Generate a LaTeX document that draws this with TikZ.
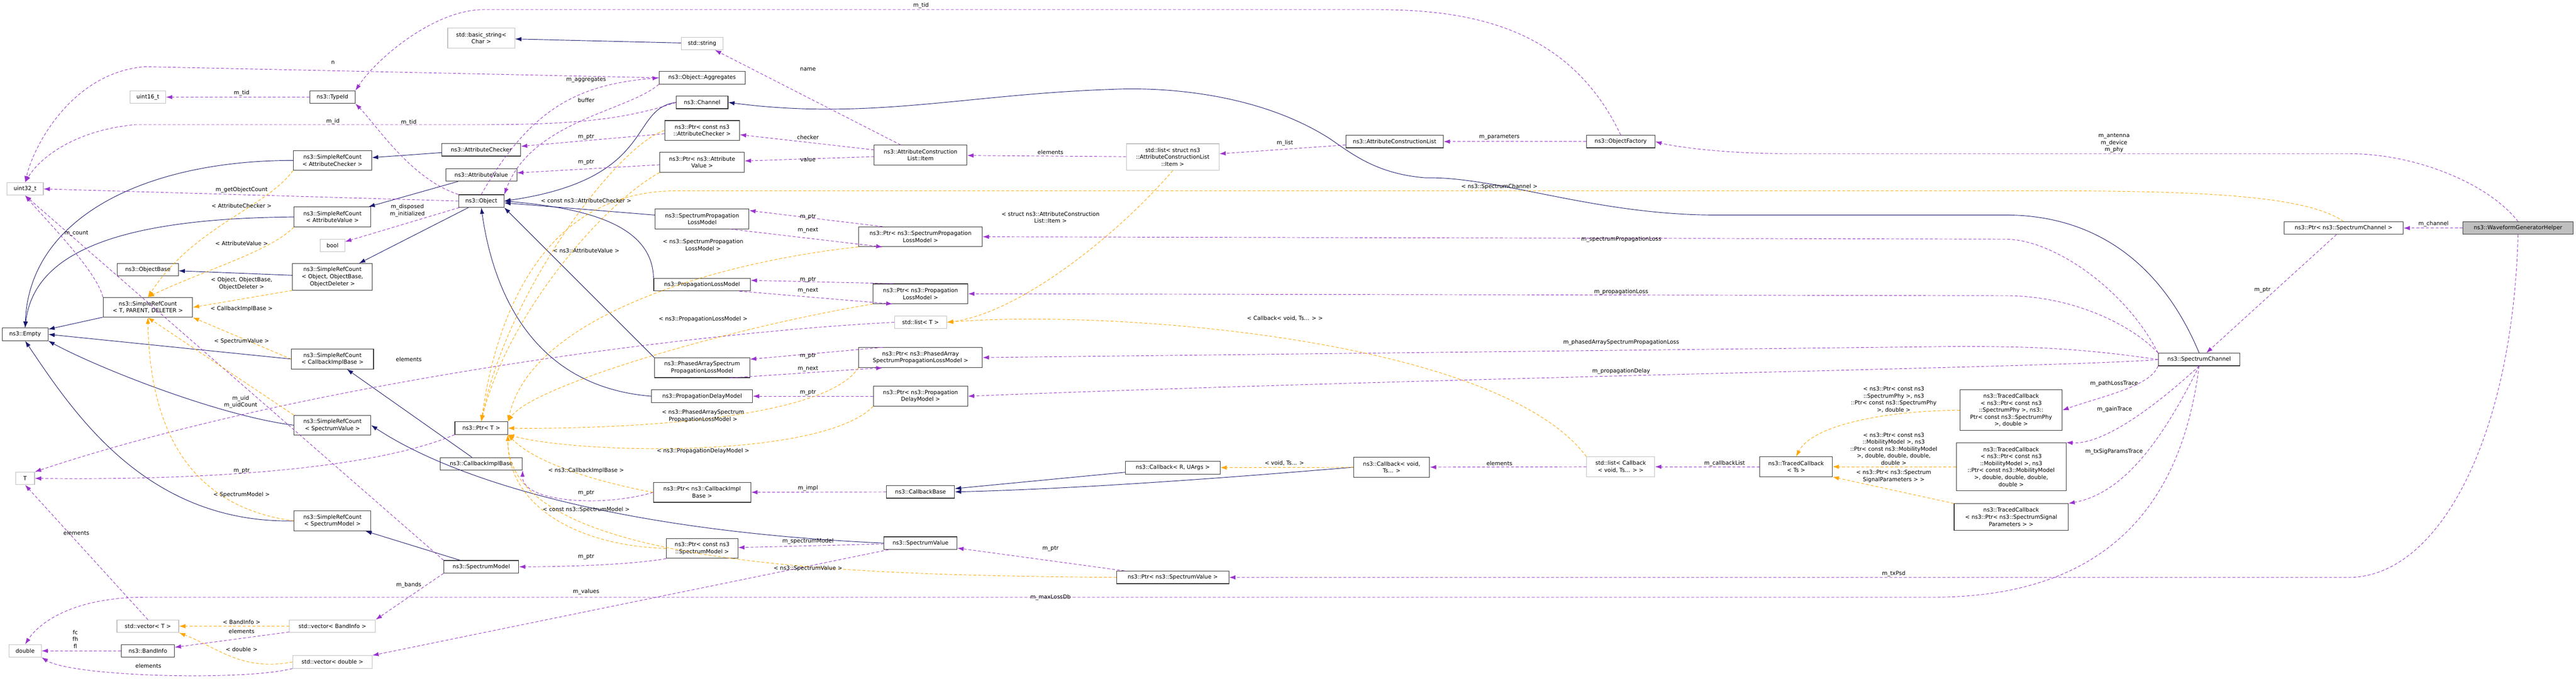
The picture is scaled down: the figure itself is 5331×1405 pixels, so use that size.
\documentclass[tikz,border=0pt]{standalone}
\usepackage{fontspec}
\setmainfont{DejaVu Sans}
\usetikzlibrary{arrows.meta}
\definecolor{inhcol}{HTML}{191970}
\definecolor{usecol}{HTML}{9A32CD}
\definecolor{tplcol}{HTML}{FFA500}
\definecolor{extcol}{HTML}{BFBFBF}

\begin{document}
\begin{tikzpicture}[x = 1pt, y = 1pt, > = {Latex[length=13pt, width=9pt]},
	every node/.style = {font = \fontsize{11.5}{14.5}\selectfont, align = center, inner sep = 0pt},
	cls/.style = {draw = black!80, fill = white, line width = 1.2pt, minimum height = 26pt},
	ext/.style = {draw = extcol, fill = white, line width = 1.2pt, minimum height = 26pt},
	main/.style = {draw = black!80, fill = black!25, line width = 1.2pt, minimum height = 26pt},
	inh/.style = {->, draw = inhcol, line width = 1pt},
	use/.style = {->, draw = usecol, line width = 1pt, dash pattern = on 6pt off 4pt},
	tpl/.style = {->, draw = tplcol, line width = 1pt, dash pattern = on 6pt off 4pt}]

\useasboundingbox (0, 0) rectangle (5331, -1405);

% Column 1 and 2: base classes

\node [ext, minimum width = 74] (u16) at (306, -201) {uint16\_t};
\node [cls, minimum width = 94] (tid) at (688, -201) {ns3::TypeId};
\node [ext, minimum width = 75] (u32) at (52, -391) {uint32\_t};
\node [cls, minimum width = 162, minimum height = 41] (srcac) at (688, -332) {ns3::SimpleRefCount\\< AttributeChecker >};
\node [cls, minimum width = 159, minimum height = 41] (srcav) at (688, -449) {ns3::SimpleRefCount\\< AttributeValue >};
\node [ext, minimum width = 51] (bool) at (688, -508) {bool};
\node [cls, minimum width = 126] (objbase) at (306, -558) {ns3::ObjectBase};
\node [cls, minimum width = 165, minimum height = 55] (srcobj) at (688, -573) {ns3::SimpleRefCount\\< Object, ObjectBase,\\ObjectDeleter >};
\node [cls, minimum width = 185, minimum height = 41] (srctpd) at (306, -636) {ns3::SimpleRefCount\\< T, PARENT, DELETER >};
\node [cls, minimum width = 95] (empty) at (52, -692) {ns3::Empty};
\node [cls, minimum width = 170, minimum height = 41] (srccib) at (688, -743) {ns3::SimpleRefCount\\< CallbackImplBase >};
\node [cls, minimum width = 159, minimum height = 41] (srcsv) at (688, -880) {ns3::SimpleRefCount\\< SpectrumValue >};
\node [ext, minimum width = 39] (tparam) at (52, -990) {T};
\node [cls, minimum width = 159, minimum height = 41] (srcsm) at (688, -1078) {ns3::SimpleRefCount\\< SpectrumModel >};
\node [ext, minimum width = 128] (vect) at (306, -1296) {std::vector< T >};
\node [ext, minimum width = 178] (vecbi) at (688, -1296) {std::vector< BandInfo >};
\node [ext, minimum width = 67] (dbl) at (52, -1347) {double};
\node [cls, minimum width = 110] (bandinfo) at (306, -1347) {ns3::BandInfo};
\node [ext, minimum width = 164] (vecdbl) at (688, -1370) {std::vector< double >};

% Column 3 and 4

\node [ext, minimum width = 139, minimum height = 41] (bstr) at (996, -79) {std::basic\_string<\\Char >};
\node [ext, minimum width = 86] (str) at (1453, -90) {std::string};
\node [cls, minimum width = 178] (aggr) at (1453, -161) {ns3::Object::Aggregates};
\node [cls, minimum width = 107] (chan) at (1453, -212) {ns3::Channel};
\node [cls, minimum width = 155, minimum height = 41] (ptrac) at (1453, -270) {ns3::Ptr< const ns3\\::AttributeChecker >};
\node [cls, minimum width = 163] (attrchk) at (996, -310) {ns3::AttributeChecker};
\node [cls, minimum width = 175, minimum height = 41] (ptrav) at (1453, -336) {ns3::Ptr< ns3::Attribute\\Value >};
\node [cls, minimum width = 147] (attrval) at (996, -362) {ns3::AttributeValue};
\node [cls, minimum width = 94] (obj) at (996, -416) {ns3::Object};
\node [cls, minimum width = 194, minimum height = 41] (splm) at (1453, -453) {ns3::SpectrumPropagation\\LossModel};
\node [cls, minimum width = 200] (plm) at (1453, -589) {ns3::PropagationLossModel};
\node [cls, minimum width = 197, minimum height = 41] (pasplm) at (1453, -761) {ns3::PhasedArraySpectrum\\PropagationLossModel};
\node [cls, minimum width = 209] (pdm) at (1453, -820) {ns3::PropagationDelayModel};
\node [cls, minimum width = 109] (ptrt) at (996, -886) {ns3::Ptr< T >};
\node [cls, minimum width = 170] (cib) at (996, -960) {ns3::CallbackImplBase};
\node [cls, minimum width = 202, minimum height = 41] (ptrcib) at (1453, -1019) {ns3::Ptr< ns3::CallbackImpl\\Base >};
\node [cls, minimum width = 148, minimum height = 41] (ptrsm) at (1453, -1135) {ns3::Ptr< const ns3\\::SpectrumModel >};
\node [cls, minimum width = 155] (specmodel) at (996, -1173) {ns3::SpectrumModel};

% Column 5 and 6

\node [cls, minimum width = 192, minimum height = 41] (item) at (1905, -321) {ns3::AttributeConstruction\\List::Item};
\node [ext, minimum width = 192, minimum height = 55] (listitem) at (2427, -325) {std::list< struct ns3\\::AttributeConstructionList\\::Item >};
\node [cls, minimum width = 256, minimum height = 41] (ptrsplm) at (1905, -490) {ns3::Ptr< ns3::SpectrumPropagation\\LossModel >};
\node [cls, minimum width = 196, minimum height = 41] (ptrplm) at (1905, -608) {ns3::Ptr< ns3::Propagation\\LossModel >};
\node [ext, minimum width = 108] (listt) at (1905, -667) {std::list< T >};
\node [cls, minimum width = 256, minimum height = 41] (ptrpa) at (1905, -740) {ns3::Ptr< ns3::PhasedArray\\SpectrumPropagationLossModel >};
\node [cls, minimum width = 195, minimum height = 41] (ptrpdm) at (1905, -820) {ns3::Ptr< ns3::Propagation\\DelayModel >};
\node [cls, minimum width = 196] (cbr) at (2427, -968) {ns3::Callback< R, UArgs >};
\node [cls, minimum width = 141] (cbbase) at (1905, -1018) {ns3::CallbackBase};
\node [cls, minimum width = 151] (specval) at (1905, -1124) {ns3::SpectrumValue};
\node [cls, minimum width = 232] (ptrsv) at (2427, -1195) {ns3::Ptr< ns3::SpectrumValue >};

% Right part

\node [cls, minimum width = 202] (acl) at (2886, -293) {ns3::AttributeConstructionList};
\node [cls, minimum width = 142] (objfac) at (3354, -293) {ns3::ObjectFactory};
\node [cls, minimum width = 157, minimum height = 41] (cbv) at (2880, -967) {ns3::Callback< void,\\Ts... >};
\node [ext, minimum width = 141, minimum height = 41] (listcb) at (3354, -966) {std::list< Callback\\< void, Ts... > >};
\node [cls, minimum width = 150, minimum height = 41] (tcts) at (3717, -966) {ns3::TracedCallback\\< Ts >};
\node [cls, minimum width = 211, minimum height = 84] (tcpath) at (4162, -849) {ns3::TracedCallback\\< ns3::Ptr< const ns3\\::SpectrumPhy >, ns3::\\Ptr< const ns3::SpectrumPhy\\>, double >};
\node [cls, minimum width = 227, minimum height = 99] (tcgain) at (4162, -966) {ns3::TracedCallback\\< ns3::Ptr< const ns3\\::MobilityModel >, ns3\\::Ptr< const ns3::MobilityModel\\>, double, double, double,\\double >};
\node [cls, minimum width = 236, minimum height = 55] (tcsig) at (4162, -1070) {ns3::TracedCallback\\< ns3::Ptr< ns3::SpectrumSignal\\Parameters > >};
\node [cls, minimum width = 169] (specchan) at (4551, -744) {ns3::SpectrumChannel};
\node [cls, minimum width = 247] (ptrsc) at (4850, -472) {ns3::Ptr< ns3::SpectrumChannel >};
\node [main, minimum width = 228] (wgh) at (5211, -472) {ns3::WaveformGeneratorHelper};

% Inheritance

\draw [inh] (srcac.west) .. controls (300, -332) and (60, -450) .. (empty.north);
\draw [inh] (srcav.west) .. controls (250, -452) and (70, -520) .. (empty.north);
\draw [inh] (srctpd) -- (empty);
\draw [inh] (srccib.west) -- (empty.east);
\draw [inh] (srcsv.west) .. controls (450, -860) and (200, -760) .. (empty.south east);
\draw [inh] (srcsm.west) .. controls (300, -1084) and (150, -850) .. (empty.south);
\draw [inh] (srcobj) -- (objbase);
\draw [inh] (attrchk) -- (srcac);
\draw [inh] (attrval) -- (srcav);
\draw [inh] (obj) -- (srcobj);
\draw [inh] (str) -- (bstr);
\draw [inh] (chan.west) .. controls (1300, -225) and (1360, -370) .. (obj.east);
\draw [inh] (splm) -- (obj);
\draw [inh] (plm.north west) .. controls (1350, -460) and (1200, -430) .. (obj.east);
\draw [inh] (pasplm.north west) -- (obj.south east);
\draw [inh] (pdm.west) .. controls (1100, -800) and (1020, -600) .. (obj.south);
\draw [inh] (cib) -- (srccib);
\draw [inh] (specval.west) .. controls (1300, -1100) and (950, -1000) .. (srcsv.east);
\draw [inh] (specmodel) -- (srcsm);
\draw [inh] (cbr) -- (cbbase);
\draw [inh] (cbv.west) .. controls (2700, -975) and (2300, -1010) .. (cbbase.east);
\draw [inh] (specchan.north) .. controls (4480, -560) and (4350, -445) .. (4150, -445) -- (3550, -445)
	.. controls (3300, -445) and (3100, -365) .. (2950, -368) .. controls (2850, -360) and (2800, -320) .. (2752, -287)
	.. controls (2600, -190) and (2400, -180) .. (2300, -185) .. controls (2000, -195) and (1800, -250) .. (chan.east);

% Usage

\draw [use] (tid) -- (u16);
\draw [use] (objfac.north) .. controls (3250, -60) and (3050, -20) .. (2850, -20) -- (1000, -20) .. controls (900, -20) and (780, -120) .. (tid.north east);
\draw [use] (aggr.west) -- (300, -138) .. controls (150, -150) and (70, -300) .. (u32.north);
\draw [use] (chan.west) .. controls (1300, -245) and (1200, -258) .. (1000, -258) -- (280, -258) .. controls (150, -270) and (80, -330) .. (u32.north);
\draw [use] (obj.north west) .. controls (850, -370) and (780, -260) .. (tid.south east);
\draw [use] (obj.west) -- (u32.east);
\draw [use] (obj) -- (bool);
\draw [use] (srctpd.north west) .. controls (200, -560) and (90, -450) .. (u32.south);
\draw [use] (specmodel.north west) -- (u32.south);
\draw [use] (obj.north) .. controls (1100, -220) and (1200, -175) .. (aggr.west);
\draw [use] (aggr.south west) .. controls (1300, -230) and (1100, -250) .. (obj.north east);
\draw [use] (item) -- (str);
\draw [use] (item) -- (ptrac);
\draw [use] (item) -- (ptrav);
\draw [use] (ptrac) -- (attrchk);
\draw [use] (ptrav) -- (attrval);
\draw [use] (ptrsplm.165) -- (splm.10);
\draw [use] (splm.-20) -- (ptrsplm.195);
\draw [use] (ptrplm.160) -- (plm.5);
\draw [use] (plm.-10) -- (ptrplm.200);
\draw [use] (ptrpa.165) -- (pasplm.10);
\draw [use] (pasplm.-20) -- (ptrpa.195);
\draw [use] (ptrpdm) -- (pdm);
\draw [use] (ptrcib.west) .. controls (1250, -1050) and (1080, -1040) .. (cib.south east);
\draw [use] (cbbase) -- (ptrcib);
\draw [use] (ptrsm.south west) .. controls (1300, -1170) and (1150, -1173) .. (specmodel.east);
\draw [use] (specval) -- (ptrsm);
\draw [use] (specval) -- (vecdbl.north east);
\draw [use] (specmodel.south west) -- (vecbi.north east);
\draw [use] (ptrt.south west) .. controls (800, -960) and (500, -995) .. (tparam.east);
\draw [use] (listt.west) .. controls (1400, -690) and (600, -800) .. (tparam.north east);
\draw [use] (vect.north) -- (tparam.south);
\draw [use] (vecbi) -- (bandinfo);
\draw [use] (bandinfo) -- (dbl);
\draw [use] (vecdbl.south west) .. controls (500, -1410) and (150, -1400) .. (dbl.south east);
\draw [use] (listitem) -- (item);
\draw [use] (acl) -- (listitem);
\draw [use] (objfac) -- (acl);
\draw [use] (tcts) -- (listcb);
\draw [use] (listcb) -- (cbv);
\draw [use] (ptrsv) -- (specval);
\draw [use] (wgh) -- (ptrsc);
\draw [use] (ptrsc) -- (specchan);
\draw [use] (wgh.north) .. controls (5150, -380) and (5000, -318) .. (4860, -318) -- (3700, -318) .. controls (3550, -318) and (3450, -300) .. (objfac.east);
\draw [use] (wgh.south) .. controls (5200, -900) and (5050, -1195) .. (4860, -1195) -- (ptrsv.east);
\draw [use] (specchan.north west) .. controls (4400, -600) and (4250, -495) .. (4150, -495) -- (ptrsplm.east);
\draw [use] (specchan.north west) .. controls (4420, -680) and (4300, -612) .. (4150, -612) -- (ptrplm.east);
\draw [use] (specchan.west) .. controls (4300, -720) and (4200, -717) .. (4050, -717) -- (ptrpa.east);
\draw [use] (specchan.west) .. controls (4300, -760) and (3000, -780) .. (ptrpdm.east);
\draw [use] (specchan.south west) .. controls (4450, -800) and (4350, -820) .. (tcpath.east);
\draw [use] (specchan.south) .. controls (4450, -850) and (4350, -920) .. (tcgain.north east);
\draw [use] (specchan.south) .. controls (4480, -900) and (4400, -1020) .. (tcsig.north east);
\draw [use] (specchan.south) .. controls (4520, -1000) and (4400, -1236) .. (4000, -1236) -- (300, -1236) .. controls (150, -1236) and (80, -1290) .. (dbl.north);

% Template instances

\draw [tpl] (srcac.south west) .. controls (550, -430) and (400, -470) .. (srctpd.north);
\draw [tpl] (srcav.south west) .. controls (560, -520) and (420, -560) .. (srctpd.north);
\draw [tpl] (srcobj.south west) -- (srctpd.east);
\draw [tpl] (srccib.west) -- (srctpd.south east);
\draw [tpl] (srcsv.north west) -- (srctpd.south);
\draw [tpl] (srcsm.west) .. controls (400, -1050) and (310, -900) .. (srctpd.south);
\draw [tpl] (ptrac.west) .. controls (1280, -300) and (1050, -600) .. (ptrt.north);
\draw [tpl] (ptrav.south west) .. controls (1250, -420) and (1050, -650) .. (ptrt.north);
\draw [tpl] (ptrsplm.south west) .. controls (1500, -540) and (1100, -650) .. (ptrt.north east);
\draw [tpl] (ptrplm.south west) .. controls (1500, -680) and (1100, -800) .. (ptrt.north east);
\draw [tpl] (ptrpa.south west) .. controls (1700, -880) and (1200, -888) .. (ptrt.east);
\draw [tpl] (ptrpdm.south west) .. controls (1700, -950) and (1200, -940) .. (ptrt.south east);
\draw [tpl] (ptrcib.west) .. controls (1200, -990) and (1100, -950) .. (ptrt.south east);
\draw [tpl] (ptrsm.west) .. controls (1200, -1130) and (1050, -1050) .. (ptrt.south east);
\draw [tpl] (ptrsv.west) .. controls (1800, -1190) and (1050, -1180) .. (ptrt.south east);
\draw [tpl] (ptrsc.north) .. controls (4780, -410) and (4600, -395) .. (4250, -395) -- (1400, -395) .. controls (1100, -395) and (1020, -700) .. (ptrt.north);
\draw [tpl] (vecbi) -- (vect);
\draw [tpl] (vecdbl.west) .. controls (500, -1390) and (450, -1340) .. (vect.south east);
\draw [tpl] (listitem.south) .. controls (2300, -500) and (2100, -650) .. (listt.east);
\draw [tpl] (listcb.north west) .. controls (3100, -700) and (2300, -640) .. (listt.east);
\draw [tpl] (cbv) -- (cbr);
\draw [tpl] (tcpath.west) .. controls (3900, -850) and (3750, -880) .. (tcts.north);
\draw [tpl] (tcgain) -- (tcts);
\draw [tpl] (tcsig.north west) -- (tcts.south east);

% Edge labels

\node (lU16) at (500, -193) {m\_tid};
\node (lTidTop) at (1906, -11) {m\_tid};
\node (lN) at (689, -129) {n};
\node (lId) at (689, -251) {m\_id};
\node (lTidObj) at (846, -253) {m\_tid};
\node (lGet) at (500, -393) {m\_getObjectCount};
\node (lBool) at (843, -436) {m\_disposed\\m\_initialized};
\node (lCount) at (158, -483) {m\_count};
\node (lTAc) at (500, -426) {< AttributeChecker >};
\node (lTAv) at (500, -504) {< AttributeValue >};
\node (lTObj) at (500, -587) {< Object, ObjectBase,\\ObjectDeleter >};
\node (lTCib) at (500, -639) {< CallbackImplBase >};
\node (lTSv) at (500, -706) {< SpectrumValue >};
\node (lTSm) at (500, -1024) {< SpectrumModel >};
\node (lListT) at (846, -744) {elements};
\node (lUid) at (498, -832) {m\_uid\\m\_uidCount};
\node (lPtrT) at (500, -975) {m\_ptr};
\node (lVecT) at (158, -1103) {elements};
\node (lBands) at (846, -1211) {m\_bands};
\node (lTBi) at (500, -1287) {< BandInfo >};
\node (lBiEl) at (500, -1307) {elements};
\node (lFc) at (156, -1323) {fc\\fh\\fl};
\node (lTDbl) at (500, -1344) {< double >};
\node (lDblEl) at (307, -1378) {elements};
\node (lName) at (1672, -143) {name};
\node (lAggr) at (1213, -165) {m\_aggregates};
\node (lBuf) at (1213, -207) {buffer};
\node (lPac) at (1213, -284) {m\_ptr};
\node (lChk) at (1672, -284) {checker};
\node (lPav) at (1213, -336) {m\_ptr};
\node (lVal) at (1672, -330) {value};
\node (lTPac) at (1213, -415) {< const ns3::AttributeChecker >};
\node (lTPav) at (1213, -519) {< ns3::AttributeValue >};
\node (lSplmP) at (1672, -449) {m\_ptr};
\node (lSplmN) at (1672, -477) {m\_next};
\node (lTSplm) at (1455, -507) {< ns3::SpectrumPropagation\\LossModel >};
\node (lPlmP) at (1672, -579) {m\_ptr};
\node (lPlmN) at (1672, -601) {m\_next};
\node (lTPlm) at (1455, -661) {< ns3::PropagationLossModel >};
\node (lPaP) at (1672, -737) {m\_ptr};
\node (lPaN) at (1672, -763) {m\_next};
\node (lPdmP) at (1672, -812) {m\_ptr};
\node (lTPa) at (1455, -861) {< ns3::PhasedArraySpectrum\\PropagationLossModel >};
\node (lTPdm) at (1455, -934) {< ns3::PropagationDelayModel >};
\node (lTCibP) at (1213, -974) {< ns3::CallbackImplBase >};
\node (lCibP) at (1213, -1020) {m\_ptr};
\node (lImpl) at (1672, -1010) {m\_impl};
\node (lTSmP) at (1213, -1055) {< const ns3::SpectrumModel >};
\node (lSmodel) at (1672, -1120) {m\_spectrumModel};
\node (lSmP) at (1213, -1152) {m\_ptr};
\node (lTSvP) at (1672, -1177) {< ns3::SpectrumValue >};
\node (lVals) at (1213, -1225) {m\_values};
\node (lItemEl) at (2174, -315) {elements};
\node (lList) at (2659, -296) {m\_list};
\node (lTItem) at (2174, -450) {< struct ns3::AttributeConstruction\\List::Item >};
\node (lTCbList) at (2659, -659) {< Callback< void, Ts... > >};
\node (lTVoid) at (2658, -959) {< void, Ts... >};
\node (lSvP) at (2174, -1136) {m\_ptr};
\node (lMaxLoss) at (2174, -1236) {m\_maxLossDb};
\node (lParams) at (3103, -284) {m\_parameters};
\node (lTSc) at (3103, -387) {< ns3::SpectrumChannel >};
\node (lSplm) at (3355, -495) {m\_spectrumPropagationLoss};
\node (lPlm) at (3355, -604) {m\_propagationLoss};
\node (lPa) at (3355, -709) {m\_phasedArraySpectrumPropagationLoss};
\node (lPdm) at (3355, -768) {m\_propagationDelay};
\node (lCbEl) at (3103, -959) {elements};
\node (lCbList) at (3569, -959) {m\_callbackList};
\node (lTPath) at (3919, -827) {< ns3::Ptr< const ns3\\::SpectrumPhy >, ns3\\::Ptr< const ns3::SpectrumPhy\\>, double >};
\node (lTGain) at (3919, -929) {< ns3::Ptr< const ns3\\::MobilityModel >, ns3\\::Ptr< const ns3::MobilityModel\\>, double, double, double,\\double >};
\node (lTSig) at (3919, -986) {< ns3::Ptr< ns3::Spectrum\\SignalParameters > >};
\node (lTxPsd) at (3919, -1187) {m\_txPsd};
\node (lFac) at (4375, -296) {m\_antenna\\m\_device\\m\_phy};
\node (lPathTr) at (4375, -794) {m\_pathLossTrace};
\node (lGainTr) at (4376, -847) {m\_gainTrace};
\node (lSigTr) at (4375, -935) {m\_txSigParamsTrace};
\node (lChanP) at (4682, -600) {m\_ptr};
\node (lChan) at (5036, -463) {m\_channel};

\end{tikzpicture}
\end{document}
